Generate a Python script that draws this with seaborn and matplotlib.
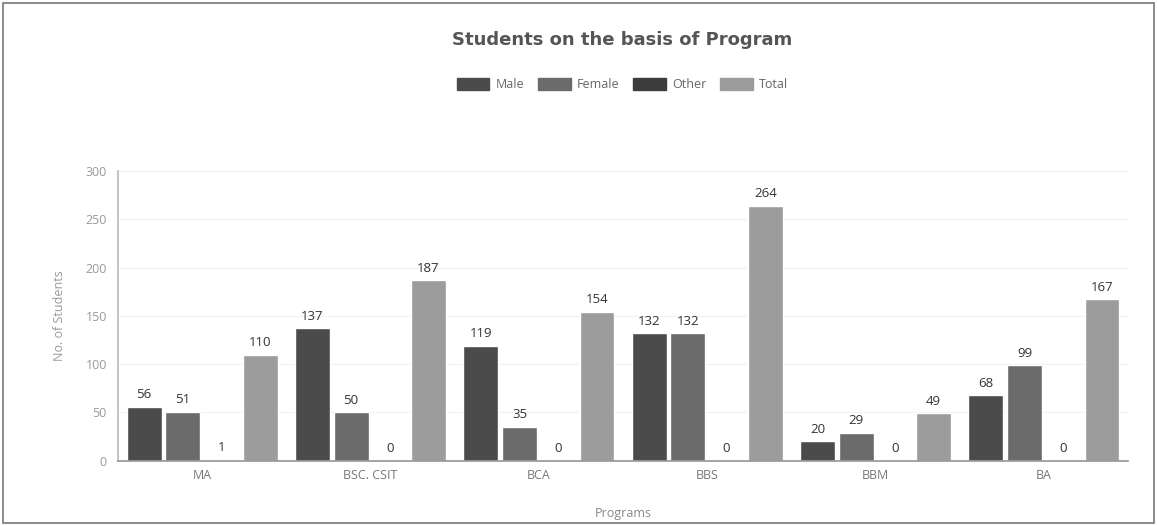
import pandas as pd
import seaborn as sns
import matplotlib.pyplot as plt
from matplotlib.patches import Rectangle

programs = ["MA", "BSC. CSIT", "BCA", "BBS", "BBM", "BA"]
male = [56, 137, 119, 132, 20, 68]
female = [51, 50, 35, 132, 29, 99]
other = [1, 0, 0, 0, 0, 0]
total = [110, 187, 154, 264, 49, 167]

series = ["Male", "Female", "Other", "Total"]
colors = ["#4b4b4b", "#6b6b6b", "#3c3c3c", "#9c9c9c"]

df = pd.DataFrame({
  "Program": programs * 4,
  "Group": [s for s in series for _ in programs],
  "Count": male + female + other + total,
})

sns.set_theme(style="white")
plt.rcParams['font.family'] = ['Open Sans', 'DejaVu Sans']

fig = plt.figure(figsize=(11.57, 5.26), dpi=100)
ax = fig.add_axes([0.102, 0.124, 0.873, 0.551])

sns.barplot(data=df, x="Program", y="Count", hue="Group", hue_order=series,
            palette=colors, width=0.92, gap=0.1, ax=ax, legend=False,
            saturation=1)

for c in ax.containers:
  ax.bar_label(c, padding=4, fontsize=9.5, color="#333333")

ax.set_ylim(0, 300)
ax.set_xlim(-0.5, len(programs) - 0.5)
ax.set_yticks(range(0, 301, 50))
ax.yaxis.grid(True, color="#f2f2f2", linewidth=0.8)
ax.set_axisbelow(True)

ax.set_xticks([i + 0.5 for i in range(-1, len(programs))], minor=True)
ax.tick_params(axis="x", which="minor", length=5, color="#999999", width=0.8)
ax.tick_params(axis="x", which="major", length=0, labelsize=9, labelcolor="#777777", pad=6)
ax.tick_params(axis="y", length=0, labelsize=9, labelcolor="#999999", pad=8)

for s in ["top", "right"]:
  ax.spines[s].set_visible(False)
ax.spines["left"].set_color("#bbbbbb")
ax.spines["bottom"].set_color("#999999")

ax.set_xlabel("Programs", fontsize=9, color="#888888", labelpad=18)
ax.set_ylabel("No. of Students", fontsize=9, color="#999999", labelpad=14)

fig.text(0.538, 0.924, "Students on the basis of Program", ha="center", va="center",
         fontsize=13, fontweight="bold", color="#555555", family="DejaVu Sans")

handles = [Rectangle((0, 0), 1, 1, color=c) for c in colors]
fig.legend(handles, series, loc="center", bbox_to_anchor=(0.538, 0.84), ncol=4,
           frameon=False, fontsize=9, handlelength=2.6, handleheight=1.1,
           columnspacing=1.1, handletextpad=0.5, labelcolor="#666666")

fig.patches.append(Rectangle((0.003, 0.006), 0.994, 0.988, transform=fig.transFigure,
                             fill=False, edgecolor="#777777", linewidth=1.2))

fig.savefig("out.png", dpi=100)
